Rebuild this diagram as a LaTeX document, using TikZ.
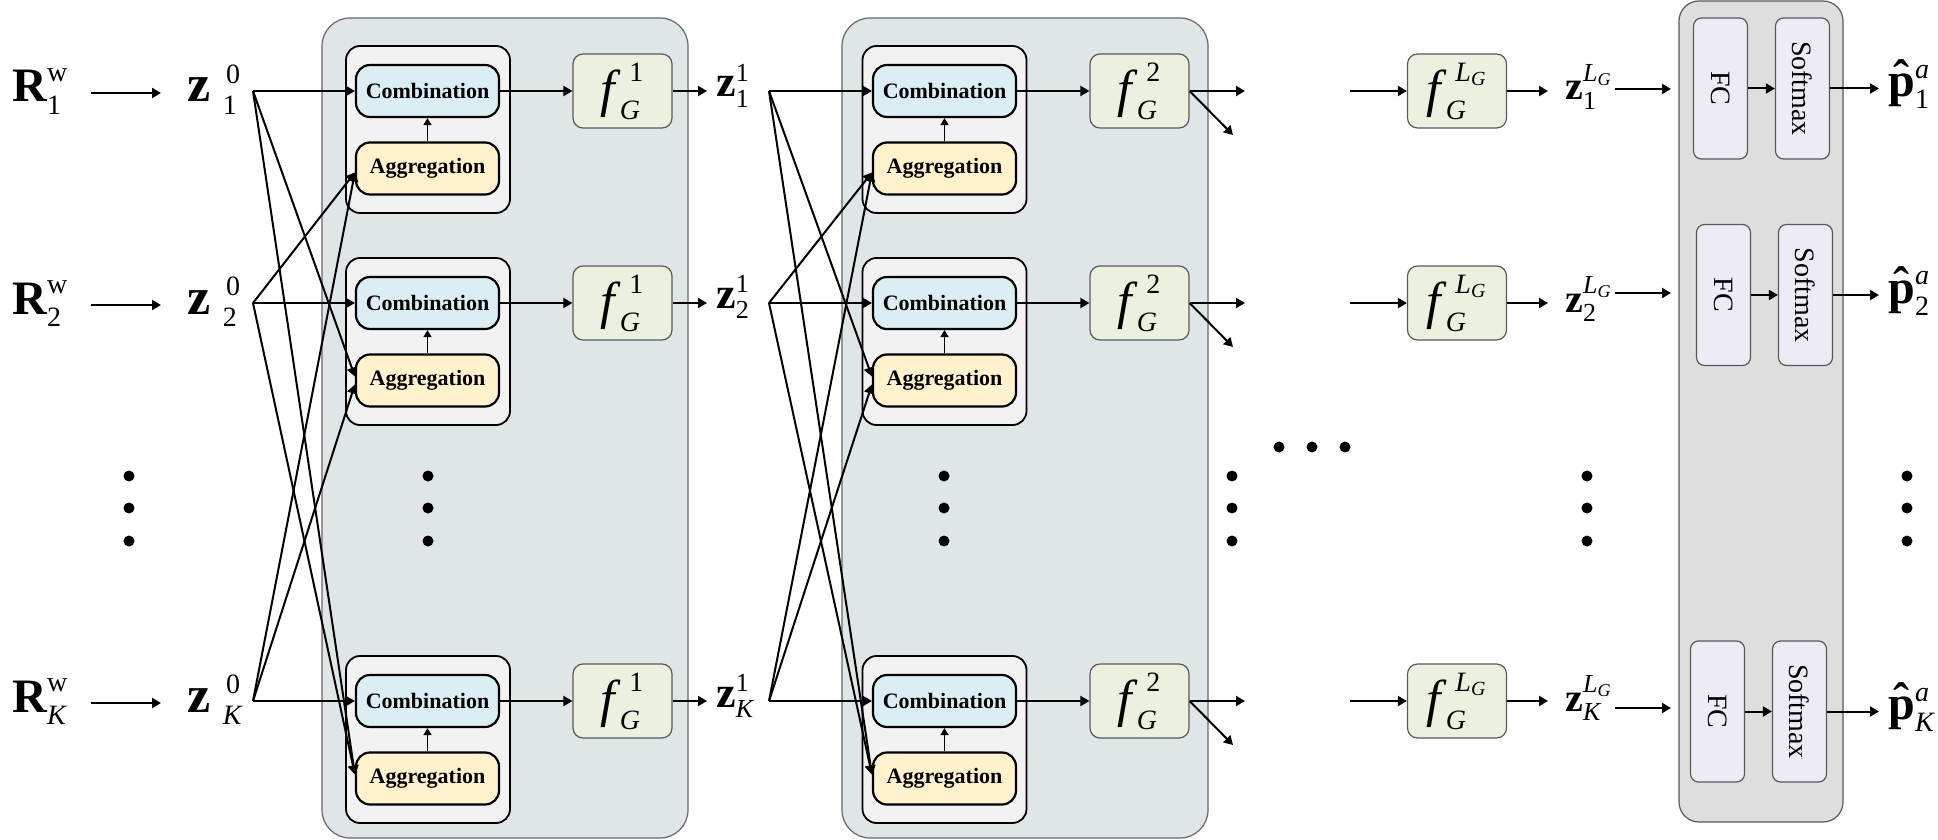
\documentclass[tikz,border=0pt]{standalone}
\usepackage{amsmath}
\usepackage{fontspec}
\setmainfont{Liberation Serif}
\usetikzlibrary{arrows.meta}
\DeclareMathSizes{26}{26}{14}{10}
\DeclareMathSizes{24}{24}{14}{10}
\DeclareMathSizes{22}{22}{13}{9}
\DeclareMathSizes{20}{20}{13}{9}
\definecolor{panelc}{HTML}{DFE6E8}
\definecolor{grpc}{HTML}{F2F2F2}
\definecolor{combc}{HTML}{DAEEF3}
\definecolor{aggc}{HTML}{FFF2CC}
\definecolor{fboxc}{HTML}{EBF1DE}
\definecolor{rpanelc}{HTML}{DEDEDE}
\definecolor{fcc}{HTML}{EDEBF3}
\newcommand\rmv[1]{\textrm{#1}}
\newcommand\fA{\fontsize{26}{30}\selectfont}
\newcommand\fB{\fontsize{24}{28}\selectfont}
\newcommand\fC{\fontsize{22}{26}\selectfont}
\newcommand\fD{\fontsize{20}{24}\selectfont}
\newcommand\phat{\mbox{\bfseries\ooalign{p\cr\hidewidth\raisebox{0.06em}{\char"02C6}\hidewidth\cr}}}
\begin{document}
\begin{tikzpicture}[x=0.5pt,y=-0.5pt,
  panel/.style={draw=black!60, fill=panelc, rounded corners=14pt, line width=0.6pt, minimum width=183pt, minimum height=410pt, inner sep=0pt},
  rpanel/.style={draw=black!65, fill=rpanelc, rounded corners=10pt, line width=0.6pt, minimum width=82pt, minimum height=410.5pt, inner sep=0pt},
  grp/.style={draw=black, fill=grpc, rounded corners=7pt, line width=0.9pt, minimum width=82pt, minimum height=83.5pt, inner sep=0pt},
  comb/.style={draw=black, fill=combc, rounded corners=7pt, line width=1.1pt, minimum width=71.5pt, minimum height=26pt, inner sep=0pt, font=\fontsize{11}{13}\selectfont\bfseries},
  agg/.style={comb, fill=aggc},
  fbox/.style={draw=black!65, fill=fboxc, rounded corners=5pt, line width=0.6pt, minimum width=49.5pt, minimum height=37pt, inner sep=0pt},
  fcbox/.style={draw=black!65, fill=fcc, rounded corners=4pt, line width=0.6pt, minimum width=27pt, minimum height=70.5pt, inner sep=0pt, font=\fontsize{14}{16}\selectfont},
  lab/.style={anchor=base west, inner sep=0pt},
  arr/.style={-{Triangle[length=4.5pt,width=5pt]}, line width=1pt},
  thinarr/.style={-{Triangle[length=3.5pt,width=4pt]}, line width=0.8pt}
]
\useasboundingbox (0,0) rectangle (1938,840);

% big panels
\node[panel] (P1) at (505,428) {};
\node[panel] (P2) at (1025,428) {};
\node[rpanel] (P3) at (1761,411.5) {};

\foreach \i/\Y/\idx/\yR/\yz/\yl in {1/91/{\rmv{1}}/102/97/100, 2/303/{\rmv{2}}/314/308/312, K/701/{\textit{K}}/712/707/711} {
  % inputs
  \node[lab, font=\fB] (R\i) at (12,\yR) {$\textbf{R}^{\rmv{w}}_{\idx}$};
  \node[lab, font=\fA] (za\i) at (187,\yR) {$\textbf{z}\mkern4.5mu{}^{\mkern2mu\rmv{0}}_{\idx}$};
  \coordinate (ra\i) at (91,\Y+2);
  \coordinate (rb\i) at (161,\Y+2);
  \draw[arr] (ra\i) -- (rb\i);
  \coordinate (zap\i) at (253,\Y);
  % layer 1
  \node[grp] (G1\i) at (428,\Y+38.5) {};
  \node[comb] (C1\i) at (427.5,\Y) {Combination};
  \node[agg] (A1\i) at (427.5,\Y+77.5) {Aggregation};
  \draw[arr] (zap\i) -- (C1\i);
  \draw[thinarr] (A1\i) -- (C1\i);
  \node[fbox] (F1\i) at (622.5,\Y) {\fA$\textit{f}^{\mkern9mu\rmv{1}}_{\mkern3mu\textit{G}}$};
  \draw[arr] (C1\i) -- (F1\i);
  \coordinate (zbin\i) at (707,\Y);
  \draw[arr] (F1\i) -- (zbin\i);
  \node[lab, font=\fC] (zb\i) at (716,\yz) {$\textbf{z}^{\rmv{1}}_{\idx}$};
  \coordinate (zbp\i) at (769,\Y);
  % layer 2
  \node[grp] (G2\i) at (944.5,\Y+38.5) {};
  \node[comb] (C2\i) at (944.5,\Y) {Combination};
  \node[agg] (A2\i) at (944.5,\Y+77.5) {Aggregation};
  \draw[arr] (zbp\i) -- (C2\i);
  \draw[thinarr] (A2\i) -- (C2\i);
  \node[fbox] (F2\i) at (1139.5,\Y) {\fA$\textit{f}^{\mkern9mu\rmv{2}}_{\mkern3mu\textit{G}}$};
  \draw[arr] (C2\i) -- (F2\i);
  \coordinate (oh\i) at (1245,\Y);
  \coordinate (od\i) at (1233,\Y+44);
  \draw[arr] (F2\i.east) -- (oh\i);
  \draw[arr] (F2\i.east) -- (od\i);
  % last layer
  \coordinate (li\i) at (1350,\Y);
  \node[fbox] (FL\i) at (1457,\Y) {\fA$\textit{f}^{\mkern9mu\textit{L}_{\textit{G}}}_{\mkern3mu\textit{G}}$};
  \draw[arr] (li\i) -- (FL\i);
  \coordinate (zcin\i) at (1548,\Y);
  \draw[arr] (FL\i) -- (zcin\i);
  \node[lab, font=\fD] (zc\i) at (1565,\yl) {$\textbf{z}^{\textit{L}_{\textit{G}}}_{\idx}$};
}

% readout
\foreach \i/\fx/\Yb/\Ya/\idx in {1/1720.5/88.5/89/{\rmv{1}}, 2/1723.5/295/293/{\rmv{2}}, K/1717.5/711.5/708/{\textit{K}}} {
  \coordinate (zcp\i) at (1615,\Ya);
  \coordinate (fcin\i) at (1671,\Ya);
  \draw[arr] (zcp\i) -- (fcin\i);
  \node[fcbox] (FC\i) at (\fx,\Yb) {\rotatebox{-90}{FC}};
  \node[fcbox] (SM\i) at (\fx+82,\Yb) {\rotatebox{-90}{Softmax}};
  \draw[arr] (FC\i) -- (SM\i);
  \coordinate (pin\i) at (1879,\Yb);
  \draw[arr] (SM\i) -- (pin\i);
  \node[lab, font=\fB] (p\i) at (1888,\Yb+8) {$\phat^{\textit{a}}_{\idx}$};
}

% neighbour connections, layer 1
\draw[arr] (zap1) -- ([yshift=2pt]A12.west);
\draw[arr] (zap1) -- ([yshift=2pt]A1K.west);
\draw[arr] (zap2) -- ([yshift=-2pt]A11.west);
\draw[arr] (zap2) -- ([yshift=2pt]A1K.west);
\draw[arr] (zapK) -- ([yshift=-2pt]A11.west);
\draw[arr] (zapK) -- ([yshift=-2pt]A12.west);
% neighbour connections, layer 2
\draw[arr] (zbp1) -- ([yshift=2pt]A22.west);
\draw[arr] (zbp1) -- ([yshift=2pt]A2K.west);
\draw[arr] (zbp2) -- ([yshift=-2pt]A21.west);
\draw[arr] (zbp2) -- ([yshift=2pt]A2K.west);
\draw[arr] (zbpK) -- ([yshift=-2pt]A21.west);
\draw[arr] (zbpK) -- ([yshift=-2pt]A22.west);

% dots
\foreach \x in {129,428,944,1232,1587,1907}
  \foreach \y in {476,508,541}
    \fill (\x,\y) circle[radius=2.75pt];
\foreach \x in {1279,1312,1345}
  \fill (\x,447) circle[radius=2.75pt];
\end{tikzpicture}
\end{document}
